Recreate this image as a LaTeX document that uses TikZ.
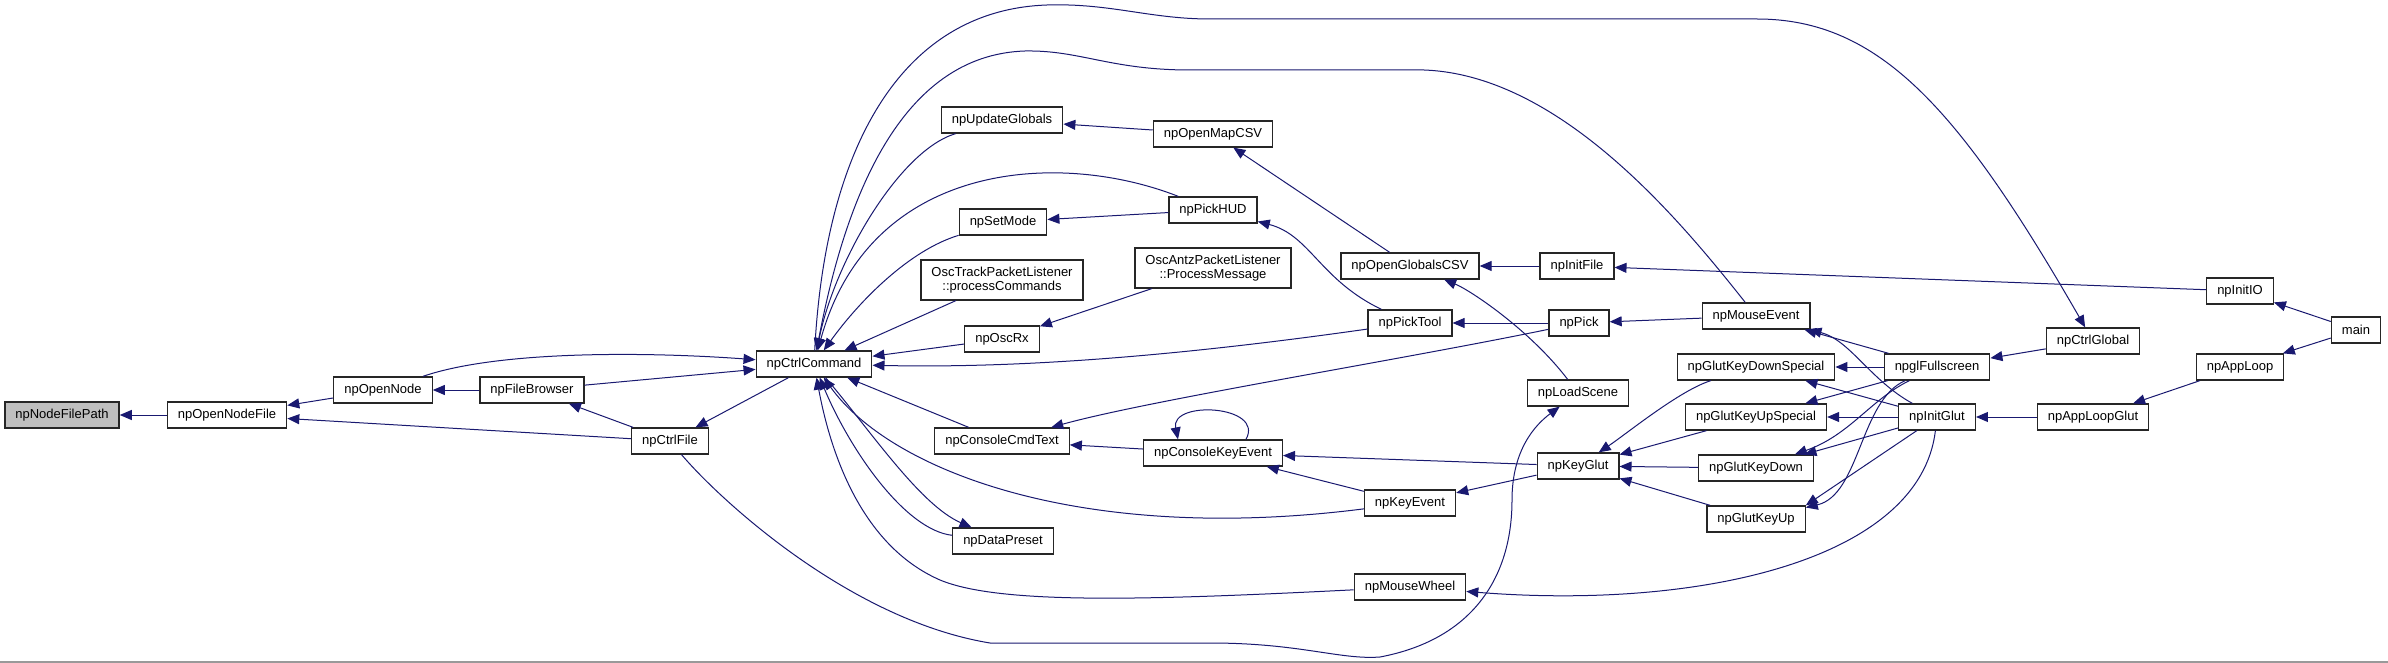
\documentclass[tikz,border=0pt]{standalone}
\usepackage{fontspec}
\setmainfont{Liberation Sans}
\usetikzlibrary{arrows.meta}

\definecolor{edgeBlue}{HTML}{191970}

\begin{document}
\begin{tikzpicture}[x=1pt, y=-1pt, >={Triangle[length=12pt, width=10pt]},
    fn/.style={draw=black!85, line width=1.3pt, fill=white, minimum height=26pt,
        inner xsep=10.5pt, inner ysep=0pt, font=\fontsize{13}{15}\selectfont},
    fnTwo/.style={fn, align=center, minimum height=40pt, font=\fontsize{13}{14}\selectfont},
    focus/.style={fn, fill=black!25},
    call/.style={->, draw=edgeBlue, line width=1pt}]

% --- CANVAS (pixel units, y pointing down) ---
\fill[white] (0,0) rectangle (2388,663);
\useasboundingbox (0,0) rectangle (2388,663);
\draw[black!40, line width=1.5pt] (0,662) -- (2388,662);

% --- 1. FUNCTIONS, left to right ---
\node[focus] (npNodeFilePath) at (62,415) {npNodeFilePath};
\node[fn] (npOpenNodeFile) at (227,415) {npOpenNodeFile};
\node[fn] (npOpenNode) at (383,390) {npOpenNode};
\node[fn] (npFileBrowser) at (532,390) {npFileBrowser};
\node[fn] (npCtrlFile) at (670,441) {npCtrlFile};
\node[fn] (npCtrlCommand) at (814,364) {npCtrlCommand};

\node[fn] (npUpdateGlobals) at (1002,120) {npUpdateGlobals};
\node[fn] (npSetMode) at (1003,222) {npSetMode};
\node[fnTwo] (oscTrack) at (1002,280) {OscTrackPacketListener\\::processCommands};
\node[fn] (npOscRx) at (1002,339) {npOscRx};
\node[fn] (npConsoleCmdText) at (1002,441) {npConsoleCmdText};
\node[fn] (npDataPreset) at (1003,541) {npDataPreset};

\node[fn] (npOpenMapCSV) at (1213,134) {npOpenMapCSV};
\node[fn] (npPickHUD) at (1213,210) {npPickHUD};
\node[fnTwo] (oscAntz) at (1213,268) {OscAntzPacketListener\\::ProcessMessage};
\node[fn] (npConsoleKeyEvent) at (1213,453) {npConsoleKeyEvent};

\node[fn] (npOpenGlobalsCSV) at (1410,266) {npOpenGlobalsCSV};
\node[fn] (npPickTool) at (1410,323) {npPickTool};
\node[fn] (npKeyEvent) at (1410,503) {npKeyEvent};
\node[fn] (npMouseWheel) at (1410,587) {npMouseWheel};

\node[fn] (npInitFile) at (1577,266) {npInitFile};
\node[fn] (npPick) at (1579,323) {npPick};
\node[fn] (npLoadScene) at (1578,393) {npLoadScene};
\node[fn] (npKeyGlut) at (1578,466) {npKeyGlut};

\node[fn] (npMouseEvent) at (1756,316) {npMouseEvent};
\node[fn] (npGlutKeyDownSpecial) at (1756,367) {npGlutKeyDownSpecial};
\node[fn] (npGlutKeyUpSpecial) at (1756,417) {npGlutKeyUpSpecial};
\node[fn] (npGlutKeyDown) at (1756,468) {npGlutKeyDown};
\node[fn] (npGlutKeyUp) at (1756,519) {npGlutKeyUp};

\node[fn] (npglFullscreen) at (1937,367) {npglFullscreen};
\node[fn] (npInitGlut) at (1937,417) {npInitGlut};
\node[fn] (npCtrlGlobal) at (2093,341) {npCtrlGlobal};
\node[fn] (npAppLoopGlut) at (2093,417) {npAppLoopGlut};
\node[fn] (npInitIO) at (2240,291) {npInitIO};
\node[fn] (npAppLoop) at (2240,367) {npAppLoop};
\node[fn] (main) at (2356,330) {main};

% --- 2. STRAIGHT CALLS (arrow at the callee) ---
\draw[call] (npOpenNodeFile) -- (npNodeFilePath);
\draw[call] (npOpenNode) -- (npOpenNodeFile);
\draw[call] (npCtrlFile) -- (npOpenNodeFile);
\draw[call] (npFileBrowser) -- (npOpenNode);
\draw[call] (npCtrlFile) -- (npFileBrowser);
\draw[call] (npCtrlCommand) -- (npCtrlFile);
\draw[call] (npFileBrowser) -- (npCtrlCommand);
\draw[call] (oscTrack) -- (npCtrlCommand);
\draw[call] (npOscRx) -- (npCtrlCommand);
\draw[call] (npConsoleCmdText) -- (npCtrlCommand);
\draw[call] (npOpenMapCSV) -- (npUpdateGlobals);
\draw[call] (npOpenGlobalsCSV) -- (npOpenMapCSV);
\draw[call] (npPickHUD) -- (npSetMode);
\draw[call] (oscAntz) -- (npOscRx);
\draw[call] (npConsoleKeyEvent) -- (npConsoleCmdText);
\draw[call] (npKeyEvent) -- (npConsoleKeyEvent);
\draw[call] (npKeyGlut) -- (npConsoleKeyEvent);
\draw[call] (npKeyGlut) -- (npKeyEvent);
\draw[call] (npInitFile) -- (npOpenGlobalsCSV);
\draw[call] (npPick) -- (npPickTool);
\draw[call] (npMouseEvent) -- (npPick);
\draw[call] (npInitIO) -- (npInitFile);
\draw[call] (main) -- (npInitIO);
\draw[call] (main) -- (npAppLoop);
\draw[call] (npAppLoop) -- (npAppLoopGlut);
\draw[call] (npAppLoopGlut) -- (npInitGlut);
\draw[call] (npCtrlGlobal) -- (npglFullscreen);
\draw[call] (npglFullscreen) -- (npMouseEvent);
\draw[call] (npglFullscreen) -- (npGlutKeyDownSpecial);
\draw[call] (npInitGlut) -- (npGlutKeyDownSpecial);
\draw[call] (npglFullscreen) -- (npGlutKeyUpSpecial);
\draw[call] (npInitGlut) -- (npGlutKeyUpSpecial);
\draw[call] (npInitGlut) -- (npGlutKeyDown);
\draw[call] (npInitGlut) -- (npGlutKeyUp.north east);
\draw[call] (npGlutKeyUpSpecial) -- (npKeyGlut);
\draw[call] (npGlutKeyDown) -- (npKeyGlut);
\draw[call] (npGlutKeyUp) -- (npKeyGlut);

% --- 3. CURVED CALLS ---
% into npCtrlCommand from above
\draw[call] (npOpenNode) .. controls (500,350) and (650,352) .. (npCtrlCommand);
\draw[call] (npUpdateGlobals) .. controls (900,150) and (835,260) .. (npCtrlCommand);
\draw[call] (npSetMode) .. controls (910,250) and (860,300) .. (npCtrlCommand);
\draw[call] (npPickHUD) .. controls (1060,150) and (870,160) .. (npCtrlCommand);
\draw[call] (npMouseEvent) .. controls (1680,220) and (1560,75) .. (1424,70) -- (1190,70)
    .. controls (1110,70) and (1080,50) .. (1025,51)
    .. controls (900,55) and (845,200) .. (npCtrlCommand);
\draw[call] (npCtrlCommand) .. controls (825,150) and (900,10) .. (1047,5)
    .. controls (1110,3) and (1150,19) .. (1210,19) -- (1757,19)
    .. controls (1880,19) and (1960,110) .. (npCtrlGlobal);
\draw[call] (npPickTool) .. controls (1150,360) and (1000,368) .. (npCtrlCommand);

% into npCtrlCommand from below
\draw[call] (npKeyEvent) .. controls (1080,545) and (890,470) .. (npCtrlCommand);
\draw[call] (npDataPreset) .. controls (905,530) and (850,450) .. (npCtrlCommand);
\draw[call] (npCtrlCommand) .. controls (870,430) and (920,505) .. (npDataPreset);
\draw[call] (npMouseWheel) .. controls (1150,600) and (1000,605) .. (940,580)
    .. controls (860,545) and (830,450) .. (npCtrlCommand);

% self call
\draw[call] ([xshift=33pt]npConsoleKeyEvent.north) .. controls (1265,405) and (1170,400)
    .. ([xshift=-35pt]npConsoleKeyEvent.north);

% middle and right
\draw[call] (npPick) .. controls (1400,360) and (1150,400) .. (npConsoleCmdText);
\draw[call] (npPickTool) .. controls (1320,280) and (1310,235) .. (npPickHUD);
\draw[call] (npLoadScene) .. controls (1530,330) and (1470,290) .. (npOpenGlobalsCSV);
\draw[call] (npInitGlut) .. controls (1870,380) and (1850,340) .. (npMouseEvent);
\draw[call] (npglFullscreen) .. controls (1870,400) and (1850,435) .. (npGlutKeyDown);
\draw[call] (npglFullscreen) .. controls (1860,400) and (1860,495) .. (npGlutKeyUp);
\draw[call] (npInitGlut) .. controls (1920,560) and (1700,610) .. (npMouseWheel);
\draw[call] (npGlutKeyDownSpecial) .. controls (1680,390) and (1625,435) .. (npKeyGlut);

% long loop along the bottom
\draw[call] (npCtrlFile) .. controls (720,500) and (850,620) .. (990,643) -- (1210,643)
    .. controls (1300,643) and (1340,660) .. (1380,657)
    .. controls (1470,640) and (1512,580) .. (1512,500)
    .. controls (1512,450) and (1535,425) .. (npLoadScene);

\end{tikzpicture}
\end{document}
